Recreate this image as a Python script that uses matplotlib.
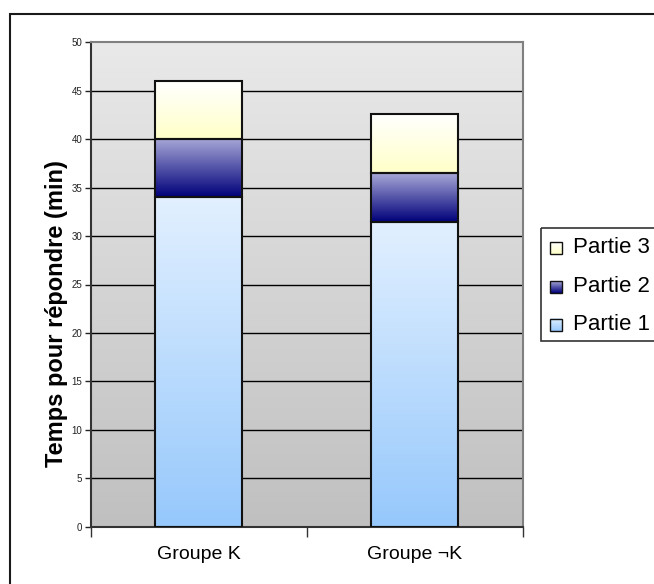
import numpy as np
import matplotlib
matplotlib.use("Agg")
import matplotlib.pyplot as plt
from matplotlib.colors import to_rgb
from matplotlib.patches import Rectangle

plt.rcParams['font.family'] = ['Liberation Sans', 'DejaVu Sans']

# ---- data ----
categories = ["Groupe K", "Groupe \u00acK"]
series_names = ["Partie 1", "Partie 2", "Partie 3"]
partie1 = [34.0, 31.5]
partie2 = [6.0, 5.0]
partie3 = [6.0, 6.1]
y_ticks = [0, 5, 10, 15, 20, 25, 30, 35, 40, 45, 50]
y_label = "Temps pour r\u00e9pondre (min)"

series_values = [partie1, partie2, partie3]
# gradient (top colour, bottom colour) per series
grads = [("#e2f0ff", "#96c8fc"), ("#a8a8d8", "#00007a"), ("#ffffff", "#ffffc8")]

W, H = 654, 584
fig = plt.figure(figsize=(W / 100, H / 100), dpi=100)

# outer frame (extends beyond the right/bottom border)
fig.patches.append(Rectangle((10 / W, -0.1), 1.2, 1 - 14 / H + 0.1,
                             transform=fig.transFigure, fill=False,
                             edgecolor="#1a1a1a", linewidth=1.5))

left, right, top, bottom = 90.7, 522.5, 42.3, 526.7
ax = fig.add_axes([left / W, 1 - bottom / H, (right - left) / W, (bottom - top) / H])

ymax = y_ticks[-1]
ax.set_xlim(-0.5, len(categories) - 0.5)
ax.set_ylim(0, ymax)


def vgrad(c_top, c_bot, n=256):
    t = np.linspace(0, 1, n)[:, None]
    a = np.array(to_rgb(c_top))
    b = np.array(to_rgb(c_bot))
    return (a * (1 - t) + b * t)[:, None, :].reshape(n, 1, 3)


# plot-area background gradient
ax.imshow(vgrad("#e9e9e9", "#c0c0c0"), extent=(-0.5, len(categories) - 0.5, 0, ymax),
          aspect="auto", zorder=0, interpolation="bilinear")

for y in y_ticks[1:-1]:
    ax.axhline(y, color="black", linewidth=1.0, zorder=1)

bw = 0.4
x = np.arange(len(categories))
bottoms = np.zeros(len(categories))
for vals, (ct, cb) in zip(series_values, grads):
    for xi, b0, v in zip(x, bottoms, vals):
        ax.imshow(vgrad(ct, cb), extent=(xi - bw / 2, xi + bw / 2, b0, b0 + v),
                  aspect="auto", zorder=2, interpolation="bilinear")
    ax.bar(x, vals, bw, bottom=bottoms, fill=False, edgecolor="#111111",
           linewidth=1.5, zorder=3)
    bottoms = bottoms + np.array(vals)

ax.set_xlim(-0.5, len(categories) - 0.5)
ax.set_ylim(0, ymax)

ax.set_yticks(y_ticks)
ax.set_yticklabels([str(v) for v in y_ticks])
ax.tick_params(axis="y", direction="out", length=4, width=1, pad=2,
               labelsize=7, colors="#222222")
ax.set_xticks(x)
ax.set_xticklabels(categories)
ax.tick_params(axis="x", which="major", length=0, pad=14, labelsize=14)
ax.set_xticks(np.arange(len(categories) + 1) - 0.5, minor=True)
ax.tick_params(axis="x", which="minor", direction="out", length=7, width=1, color="#333333")

ax.spines["left"].set_color("#333333")
ax.spines["left"].set_linewidth(1.5)
ax.spines["bottom"].set_color("#333333")
ax.spines["bottom"].set_linewidth(1.5)
ax.spines["top"].set_color("#808080")
ax.spines["top"].set_linewidth(1.5)
ax.spines["right"].set_color("#808080")
ax.spines["right"].set_linewidth(1.5)

fig.text(56 / W, 1 - 314 / H, y_label, rotation=90, ha="center", va="center",
         fontsize=17, fontweight="bold")

# legend (manually drawn, cut at the right border like the reference)
lg_l, lg_t, lg_b = 540.7, 227.7, 341.0
lax = fig.add_axes([lg_l / W, 1 - lg_b / H, (720 - lg_l) / W, (lg_b - lg_t) / H])
lax.set_xlim(0, 720 - lg_l)
lax.set_ylim(lg_b - lg_t, 0)
lax.axis("off")
lax.add_patch(Rectangle((0, 0), 720 - lg_l, lg_b - lg_t, fill=False,
                        edgecolor="#333333", linewidth=1.2, clip_on=False))
rows_y = [248 - lg_t, 287 - lg_t, 325 - lg_t]
for (name, (ct, cb)), yy in zip(list(zip(series_names, grads))[::-1], rows_y):
    sq = 12
    x0 = 549.5 - lg_l
    lax.imshow(vgrad(ct, cb), extent=(x0, x0 + sq, yy + sq / 2, yy - sq / 2),
               aspect="auto", interpolation="bilinear", zorder=2)
    lax.add_patch(Rectangle((x0, yy - sq / 2), sq, sq, fill=False,
                            edgecolor="#111111", linewidth=1.0, zorder=3))
    lax.text(573 - lg_l, yy, name, ha="left", va="center", fontsize=16)
lax.set_xlim(0, 720 - lg_l)
lax.set_ylim(lg_b - lg_t, 0)

fig.savefig("out.png", dpi=100)
